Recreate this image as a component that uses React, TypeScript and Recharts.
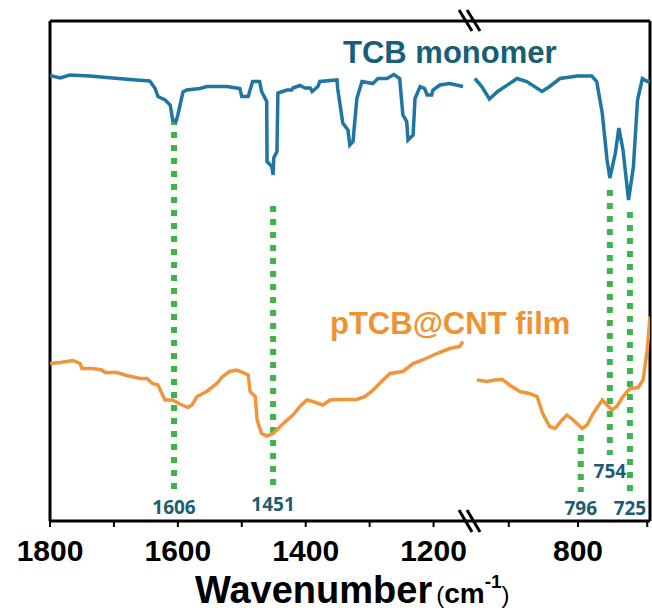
import React from 'react';
import { LineChart, Line, XAxis, YAxis, ReferenceLine } from 'recharts';

// ---- Data (wavenumber in cm-1, transmittance in arbitrary offset units) ----
const monoLeftWn = [1800, 1784, 1769, 1738, 1711, 1675, 1644, 1636, 1631, 1620, 1612, 1608, 1603, 1600, 1592, 1586, 1565, 1555, 1523, 1503, 1500, 1490, 1487, 1483, 1472, 1469, 1461, 1460.5, 1453, 1451, 1450, 1445, 1443.5, 1436, 1429, 1422, 1420, 1409, 1401, 1393, 1390, 1381, 1378, 1351, 1350, 1342, 1334, 1331, 1326, 1320, 1312, 1295, 1287, 1273, 1262, 1253, 1248, 1242, 1240, 1232, 1229, 1221, 1214, 1210, 1203, 1201, 1190, 1175, 1154];
const monoLeftT = [89.1, 88.6, 89.2, 89.0, 88.7, 88.3, 88.0, 86.6, 84.9, 84.2, 83.2, 80.2, 79.9, 81.2, 85.8, 86.2, 86.5, 86.9, 86.9, 86.5, 84.9, 84.9, 86.2, 87.9, 87.9, 85.9, 83.9, 71.9, 70.9, 69.2, 72.6, 73.9, 85.6, 85.9, 86.2, 86.2, 86.6, 87.1, 86.6, 86.6, 85.9, 86.9, 87.9, 88.2, 86.5, 79.6, 78.2, 75.2, 75.9, 84.5, 87.9, 87.5, 88.5, 88.5, 89.3, 88.5, 81.2, 79.9, 76.2, 77.2, 84.5, 86.9, 86.5, 85.2, 85.2, 86.2, 87.2, 87.5, 86.9];

const monoRightWn = [949, 939, 928, 916, 888, 874, 852, 841, 826, 801, 780, 773, 765, 758, 754, 746, 741, 735, 727, 720, 714, 707, 700, 696];
const monoRightT = [88.5, 86.9, 84.4, 85.9, 88.5, 87.9, 85.9, 86.9, 88.5, 89.0, 89.0, 87.9, 81.6, 72.2, 68.6, 73.6, 78.6, 74.2, 64.2, 70.8, 84.2, 88.5, 87.9, 88.2];

const filmLeftWn = [1800, 1784, 1764, 1753, 1750, 1733, 1719, 1714, 1695, 1680, 1659, 1648, 1640, 1631, 1625, 1620, 1608, 1597, 1584, 1578, 1570, 1555, 1539, 1530, 1519, 1508, 1498, 1490, 1487, 1479, 1476, 1469, 1461, 1451, 1440, 1429, 1420, 1409, 1398, 1389, 1373, 1362, 1347, 1320, 1307, 1297, 1289, 1279, 1268, 1248, 1232, 1217, 1195, 1175, 1159, 1154];
const filmLeftT = [31.5, 31.7, 32.1, 31.5, 30.5, 30.5, 30.2, 29.7, 29.7, 29.1, 28.5, 28.5, 27.5, 27.2, 25.5, 24.2, 24.2, 23.4, 22.7, 23.2, 24.9, 25.9, 27.5, 28.9, 29.9, 30.2, 29.7, 29.2, 25.9, 24.9, 20.2, 17.5, 17.0, 17.5, 18.9, 20.2, 21.2, 22.9, 24.2, 23.9, 23.2, 24.2, 24.3, 24.3, 24.9, 25.9, 26.9, 28.2, 29.5, 29.9, 31.5, 32.2, 33.5, 34.5, 34.9, 35.9];

const filmRightWn = [946, 932, 920, 909, 899, 884, 870, 859, 851, 841, 833, 823, 816, 807, 794, 787, 778, 765, 758, 751, 744, 735, 725, 713, 706, 700, 696];
const filmRightT = [28.2, 27.9, 28.2, 28.3, 27.2, 25.9, 25.5, 24.9, 21.5, 18.9, 18.5, 20.2, 21.2, 20.2, 18.5, 19.2, 21.5, 24.2, 23.2, 22.2, 22.9, 24.9, 26.5, 26.7, 28.2, 34.2, 40.9];

const leftTicks = [1800, 1700, 1600, 1500, 1400, 1300, 1200];
const rightTicks = [900, 800, 700];

// Marked peaks: wavenumber, top value, bottom value, label
const peakWn = [1606, 1451, 796, 754, 725];
const peakTop = [80.4, 63.0, 17.2, 66.2, 61.8];
const peakBottom = [6.0, 6.6, 5.8, 13.2, 5.8];
const peakLabels = ['1606', '1451', '796', '754', '725'];

const toRows = (wn: number[], t: number[]) => wn.map((w, i) => ({ wn: w, t: t[i] }));

const monoLeft = toRows(monoLeftWn, monoLeftT);
const monoRight = toRows(monoRightWn, monoRightT);
const filmLeft = toRows(filmLeftWn, filmLeftT);
const filmRight = toRows(filmRightWn, filmRightT);

const W = 652;
const H = 614;
const BLUE = '#1f76a2';
const ORANGE = '#f0953a';
const GREEN = '#3db54a';
const LABEL = '#1d5d72';
const FONT = '"Liberation Sans", Arial, sans-serif';

const tickStyle = { fontSize: 30, fontWeight: 700, fill: '#000', fontFamily: FONT };
const evenHundreds = (v: number) => (v % 200 === 0 ? String(v) : '');

const peakLabel = (i: number) => ({
  value: peakLabels[i],
  position: 'bottom' as const,
  offset: 10,
  fill: LABEL,
  fontSize: 19,
  fontWeight: 700,
  fontFamily: '"Open Sans", sans-serif',
});

const renderPeaks = (idx: number[]) =>
  idx.map((i) => (
    <ReferenceLine
      key={peakLabels[i]}
      segment={[{ x: peakWn[i], y: peakTop[i] }, { x: peakWn[i], y: peakBottom[i] }]}
      stroke={GREEN}
      strokeWidth={6}
      strokeDasharray="6 7"
      label={peakLabel(i)}
    />
  ));

export default function App() {
  const margins = { top: 21, bottom: 33 };
  return (
    <div style={{ position: 'absolute', left: 0, top: 0, width: W, height: H, background: '#fff' }}>
      <div style={{ position: 'absolute', left: 0, top: 0 }}>
        <LineChart width={W} height={H} margin={{ ...margins, left: 50, right: 182 }}>
          <XAxis
            type="number"
            dataKey="wn"
            domain={[1143, 1800]}
            reversed
            allowDataOverflow
            ticks={leftTicks}
            tickFormatter={evenHundreds}
            interval={0}
            height={60}
            axisLine={{ stroke: '#000', strokeWidth: 3 }}
            tickLine={{ stroke: '#000', strokeWidth: 2 }}
            tickSize={6}
            tickMargin={13}
            tick={tickStyle}
          />
          <YAxis type="number" domain={[0, 100]} hide allowDataOverflow />
          <ReferenceLine y={100} stroke="#000" strokeWidth={3} />
          <ReferenceLine x={1800} stroke="#000" strokeWidth={3} />
          {renderPeaks([0, 1])}
          <Line data={monoLeft} dataKey="t" stroke={BLUE} strokeWidth={3.5} dot={false} isAnimationActive={false} type="linear" />
          <Line data={filmLeft} dataKey="t" stroke={ORANGE} strokeWidth={3.5} dot={false} isAnimationActive={false} type="linear" />
        </LineChart>
      </div>
      <div style={{ position: 'absolute', left: 0, top: 0 }}>
        <LineChart width={W} height={H} margin={{ ...margins, left: 470, right: 2 }}>
          <XAxis
            type="number"
            dataKey="wn"
            domain={[696, 956]}
            reversed
            allowDataOverflow
            ticks={rightTicks}
            tickFormatter={evenHundreds}
            interval={0}
            height={60}
            axisLine={{ stroke: '#000', strokeWidth: 3 }}
            tickLine={{ stroke: '#000', strokeWidth: 2 }}
            tickSize={6}
            tickMargin={13}
            tick={tickStyle}
          />
          <YAxis type="number" domain={[0, 100]} hide allowDataOverflow />
          <ReferenceLine y={100} stroke="#000" strokeWidth={3} />
          <ReferenceLine x={696} stroke="#000" strokeWidth={3} />
          {renderPeaks([2, 3, 4])}
          <Line data={monoRight} dataKey="t" stroke={BLUE} strokeWidth={3.5} dot={false} isAnimationActive={false} type="linear" />
          <Line data={filmRight} dataKey="t" stroke={ORANGE} strokeWidth={3.5} dot={false} isAnimationActive={false} type="linear" />
        </LineChart>
      </div>
      <svg width={W} height={H} style={{ position: 'absolute', left: 0, top: 0, pointerEvents: 'none' }}>
        <g stroke="#000" strokeWidth={3}>
          <line x1={459} y1={10} x2={472} y2={31} />
          <line x1={467} y1={10} x2={480} y2={31} />
          <line x1={459} y1={510} x2={472} y2={532} />
          <line x1={467} y1={510} x2={480} y2={532} />
        </g>
        <text x={343} y={63} fontFamily={FONT} fontWeight={700} fontSize={31} fill="#175e76">
          TCB monomer
        </text>
        <text x={330} y={334} fontFamily={FONT} fontWeight={700} fontSize={31} fill="#f0922f">
          pTCB@CNT film
        </text>
        <text x={195} y={603} fontFamily={FONT} fontWeight={700} fontSize={38} fill="#000">
          Wavenumber
          <tspan fontSize={24} fontWeight={400} dx={4}>(</tspan>
          <tspan fontSize={28}>cm</tspan>
          <tspan fontSize={19} dy={-15}>-1</tspan>
          <tspan fontSize={24} fontWeight={400} dy={15}>)</tspan>
        </text>
      </svg>
    </div>
  );
}
